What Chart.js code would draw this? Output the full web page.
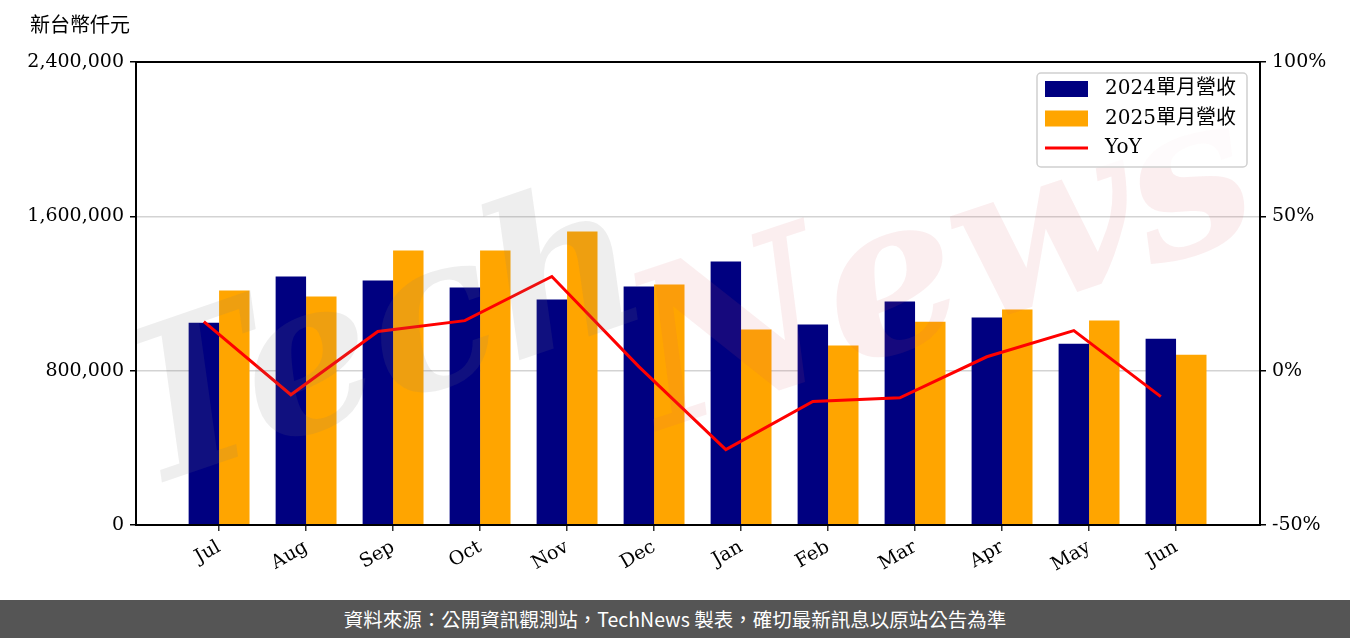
<!DOCTYPE html>
<html>
<head>
<meta charset="utf-8">
<script src="https://cdn.jsdelivr.net/npm/chart.js@4/dist/chart.umd.min.js"></script>
<style>
  body { margin: 0; background: #fff; }
  #wrap { width: 1350px; height: 600px; position: relative; }
  #footer {
    width: 1350px; height: 38px; background: #555555; color: #fff;
    font-family: "Noto Sans CJK TC", "Noto Sans", sans-serif; font-size: 19.5px;
    text-align: center; line-height: 38px;
  }
</style>
</head>
<body>
<div id="wrap"><canvas id="chart" width="1350" height="600"></canvas></div>
<div id="footer">資料來源：公開資訊觀測站，TechNews 製表，確切最新訊息以原站公告為準</div>
<script>
// 月份與營收資料（新台幣仟元）
const months = ['Jul', 'Aug', 'Sep', 'Oct', 'Nov', 'Dec', 'Jan', 'Feb', 'Mar', 'Apr', 'May', 'Jun'];
const rev2024 = [1049000, 1288000, 1267000, 1231000, 1169000, 1236000, 1366000, 1039000, 1158000, 1075000, 940000, 966000];
const rev2025 = [1215000, 1184000, 1423000, 1423000, 1522000, 1247000, 1013000, 930000, 1054000, 1117000, 1060000, 883000];
const yoy = [15.9, -7.8, 12.7, 16.2, 30.5, 1.3, -25.6, -10.0, -8.8, 4.5, 13.0, -8.4];
const leftTicks = [0, 800000, 1600000, 2400000];
const rightTicks = [-50, 0, 50, 100];

const serif = '"DejaVu Serif", "Noto Sans CJK TC", serif';

// ─── 浮水印 + 外框 + 圖例 ─────────────────────────────
const decorPlugin = {
  id: 'decor',
  afterDatasetsDraw(chart) {
    const ctx = chart.ctx;
    const a = chart.chartArea;
    ctx.save();
    ctx.beginPath();
    ctx.rect(a.left, a.top, a.right - a.left, a.bottom - a.top);
    ctx.clip();

    ctx.save();
    ctx.font = 'italic bold 210px "DejaVu Serif", serif';
    ctx.fillStyle = 'rgba(120,120,120,0.13)';
    ctx.translate(140, 490);
    ctx.rotate(-0.33);
    ctx.fillText('Tech', 0, 0);
    ctx.restore();

    ctx.save();
    ctx.font = 'italic bold 215px "DejaVu Serif", serif';
    ctx.fillStyle = 'rgba(215,90,100,0.1)';
    ctx.translate(660, 430);
    ctx.rotate(-0.32);
    ctx.fillText('News', 0, 0);
    ctx.restore();

    ctx.restore();
  },
  afterDraw(chart) {
    const ctx = chart.ctx;
    const a = chart.chartArea;
    ctx.save();
    ctx.strokeStyle = '#000';
    ctx.lineWidth = 2;
    ctx.strokeRect(a.left, a.top, a.right - a.left, a.bottom - a.top);

    // 圖例
    const lx = 1037, ly = 73, lw = 210, lh = 94;
    ctx.beginPath();
    ctx.roundRect(lx, ly, lw, lh, 4);
    ctx.fillStyle = 'rgba(255,255,255,0.8)';
    ctx.fill();
    ctx.strokeStyle = '#d0d0d0';
    ctx.lineWidth = 1.5;
    ctx.stroke();

    const items = [
      { label: '2024單月營收', color: '#000080', type: 'box' },
      { label: '2025單月營收', color: '#FFA500', type: 'box' },
      { label: 'YoY', color: '#FF0000', type: 'line' }
    ];
    ctx.font = '20px ' + serif;
    ctx.textBaseline = 'middle';
    items.forEach((it, i) => {
      const cy = 89 + i * 29.5;
      if (it.type === 'box') {
        ctx.fillStyle = it.color;
        ctx.fillRect(1045, cy - 8, 43, 16);
      } else {
        ctx.strokeStyle = it.color;
        ctx.lineWidth = 3;
        ctx.beginPath();
        ctx.moveTo(1045, cy);
        ctx.lineTo(1088, cy);
        ctx.stroke();
      }
      ctx.fillStyle = '#000';
      ctx.fillText(it.label, 1105, cy);
    });

    // 左上單位
    ctx.font = '20px ' + serif;
    ctx.fillStyle = '#000';
    ctx.textAlign = 'left';
    ctx.fillText('新台幣仟元', 30, 27);
    ctx.restore();
  }
};

new Chart(document.getElementById('chart'), {
  type: 'bar',
  data: {
    datasets: [
      {
        type: 'line',
        label: 'YoY',
        data: yoy.map((v, i) => ({ x: i - 0.175, y: v })),
        borderColor: '#FF0000',
        borderWidth: 3,
        pointRadius: 0,
        tension: 0,
        yAxisID: 'y1',
        order: 0
      },
      {
        label: '2024單月營收',
        data: rev2024.map((v, i) => ({ x: i, y: v })),
        backgroundColor: '#000080',
        yAxisID: 'y',
        order: 1
      },
      {
        label: '2025單月營收',
        data: rev2025.map((v, i) => ({ x: i, y: v })),
        backgroundColor: '#FFA500',
        yAxisID: 'y',
        order: 1
      }
    ]
  },
  options: {
    responsive: false,
    animation: false,
    categoryPercentage: 0.7,
    barPercentage: 1.0,
    layout: { padding: { top: 62, left: 0, right: 0, bottom: 0 } },
    plugins: {
      legend: { display: false },
      tooltip: { enabled: false }
    },
    scales: {
      x: {
        type: 'linear',
        offset: false,
        min: -0.955,
        max: 11.965,
        afterBuildTicks: s => { s.ticks = months.map((m, i) => ({ value: i })); },
        afterFit: s => { s.height = 75; },
        grid: { offset: false, drawOnChartArea: false, tickLength: 6, color: '#333', lineWidth: 1.5 },
        border: { display: false },
        ticks: {
          minRotation: 30, maxRotation: 30,
          color: '#000',
          padding: 5,
          font: { family: serif, size: 19 },
          callback: (v, i) => months[i]
        }
      },
      y: {
        position: 'left',
        min: 0, max: 2400000,
        afterBuildTicks: s => { s.ticks = leftTicks.map(v => ({ value: v })); },
        afterFit: s => { s.width = 136; },
        grid: {
          color: c => (c.tick && (c.tick.value === 0 || c.tick.value === 2400000)) ? 'rgba(0,0,0,0)' : '#d3d3d3',
          lineWidth: 1.5,
          tickColor: '#000',
          tickLength: 6
        },
        border: { display: false },
        ticks: {
          color: '#000',
          padding: 6,
          font: { family: serif, size: 19 },
          callback: v => v.toLocaleString('en-US')
        }
      },
      y1: {
        position: 'right',
        min: -50, max: 100,
        afterBuildTicks: s => { s.ticks = rightTicks.map(v => ({ value: v })); },
        afterFit: s => { s.width = 90; },
        grid: { drawOnChartArea: false, tickColor: '#000', tickLength: 6, lineWidth: 1.5 },
        border: { display: false },
        ticks: {
          color: '#000',
          padding: 6,
          font: { family: serif, size: 19 },
          callback: v => v + '%'
        }
      }
    }
  },
  plugins: [decorPlugin]
});
</script>
</body>
</html>
